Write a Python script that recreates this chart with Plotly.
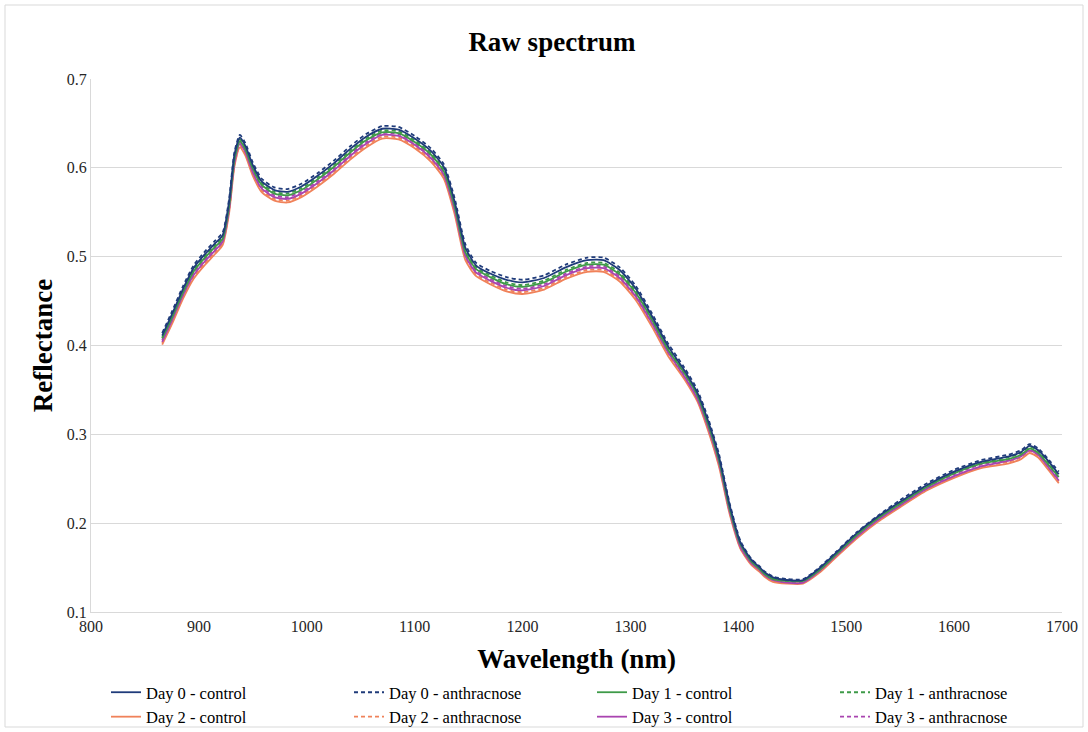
import plotly.graph_objects as go

wavelength = [866, 875, 885, 895, 905, 915, 922, 928, 933, 938, 943, 950, 958, 970, 982, 995,
              1010, 1025, 1040, 1055, 1070, 1085, 1100, 1115, 1127, 1137, 1147, 1157, 1170, 1185,
              1200, 1220, 1240, 1260, 1275, 1290, 1305, 1320, 1335, 1350, 1362, 1372, 1382, 1392,
              1402, 1412, 1420, 1424, 1432, 1445, 1460, 1475, 1490, 1510, 1530, 1550, 1575, 1600,
              1625, 1650, 1662, 1670, 1678, 1688, 1697]

day0_anthracnose = [.414, .438, .466, .490, .505, .518, .527, .565, .618, .637, .628, .606, .588, .578, .576, .582,
                    .594, .608, .624, .638, .647, .646, .636, .622, .604, .566, .514, .493, .484, .477,
                    .474, .479, .491, .499, .499, .488, .467, .436, .402, .375, .350, .318, .278, .222,
                    .180, .160, .151, .146, .140, .137, .137, .150, .167, .190, .209, .226, .245, .260,
                    .271, .277, .282, .289, .284, .271, .258]
day0_control = [.411, .435, .463, .487, .502, .515, .524, .562, .615, .634, .625, .603, .585, .575, .573, .579,
                .591, .605, .621, .635, .644, .643, .633, .619, .601, .562, .510, .490, .481, .474,
                .471, .476, .488, .496, .496, .485, .464, .433, .399, .372, .347, .315, .275, .220,
                .178, .159, .150, .145, .139, .136, .136, .149, .166, .189, .208, .224, .243, .258,
                .269, .275, .280, .287, .282, .269, .255]
day1_anthracnose = [.409, .433, .461, .485, .500, .513, .522, .559, .612, .632, .623, .601, .583, .573, .571, .577,
                    .589, .603, .619, .633, .642, .641, .631, .617, .598, .560, .508, .488, .479, .471,
                    .468, .473, .485, .493, .493, .482, .461, .431, .397, .370, .345, .313, .273, .218,
                    .177, .158, .149, .144, .138, .135, .135, .148, .165, .188, .207, .223, .242, .257,
                    .268, .274, .279, .286, .281, .267, .253]
day1_control = [.408, .431, .459, .483, .498, .511, .520, .557, .610, .630, .621, .599, .581, .571, .569, .575,
                .587, .601, .617, .631, .640, .639, .629, .615, .596, .557, .505, .486, .477, .469,
                .466, .471, .483, .491, .491, .480, .459, .429, .395, .369, .344, .311, .271, .216,
                .176, .157, .148, .143, .137, .135, .135, .147, .164, .187, .206, .222, .241, .256,
                .267, .272, .277, .284, .279, .265, .252]
day2_control = [.401, .424, .452, .475, .490, .503, .513, .549, .602, .623, .614, .591, .573, .563, .561, .567,
                .579, .593, .609, .623, .633, .632, .622, .607, .588, .548, .496, .478, .469, .461,
                .458, .463, .475, .483, .483, .472, .451, .421, .388, .362, .337, .304, .264, .210,
                .171, .153, .145, .140, .134, .132, .132, .144, .161, .183, .202, .218, .237, .251,
                .262, .267, .272, .279, .274, .259, .245]
day2_anthracnose = [.403, .426, .454, .477, .492, .505, .515, .551, .604, .625, .616, .593, .575, .565, .563, .569,
                    .581, .595, .611, .625, .635, .634, .624, .609, .590, .551, .499, .480, .471, .463,
                    .460, .465, .477, .485, .485, .474, .453, .423, .390, .364, .339, .306, .266, .212,
                    .172, .154, .146, .141, .135, .133, .133, .145, .162, .184, .203, .219, .238, .252,
                    .263, .269, .274, .281, .276, .261, .247]
day3_control = [.404, .428, .456, .479, .494, .507, .517, .553, .606, .627, .618, .595, .577, .567, .565, .571,
                .583, .597, .613, .627, .637, .636, .626, .611, .592, .553, .501, .482, .473, .465,
                .462, .467, .479, .487, .487, .476, .455, .425, .392, .365, .340, .308, .268, .213,
                .173, .155, .147, .142, .136, .133, .133, .146, .163, .185, .204, .220, .239, .253,
                .264, .270, .275, .282, .277, .262, .248]
day3_anthracnose = [.406, .430, .458, .481, .496, .509, .519, .555, .608, .629, .620, .597, .579, .569, .567, .573,
                    .585, .599, .615, .629, .639, .638, .628, .613, .594, .555, .503, .484, .475, .467,
                    .464, .469, .481, .489, .489, .478, .457, .427, .394, .367, .342, .310, .270, .215,
                    .175, .156, .147, .142, .136, .134, .134, .146, .163, .186, .205, .221, .240, .255,
                    .266, .271, .276, .283, .278, .264, .250]

series_names = ["Day 0 - control", "Day 0 - anthracnose", "Day 1 - control", "Day 1 - anthracnose",
                "Day 2 - control", "Day 2 - anthracnose", "Day 3 - control", "Day 3 - anthracnose"]
series_values = [day0_control, day0_anthracnose, day1_control, day1_anthracnose,
                 day2_control, day2_anthracnose, day3_control, day3_anthracnose]

x_ticks = [800, 900, 1000, 1100, 1200, 1300, 1400, 1500, 1600, 1700]
y_ticks = [0.1, 0.2, 0.3, 0.4, 0.5, 0.6, 0.7]

colors = {"Day 0": "#1F3B7A", "Day 1": "#3E9A48", "Day 2": "#F0825A", "Day 3": "#A944B0"}

FONT = "Liberation Serif"

# draw order: lowest first so top curves are on top
draw_order = [4, 5, 6, 7, 2, 3, 0, 1]
fig = go.Figure()
traces = {}
for i in range(8):
    name = series_names[i]
    day = name.split(" - ")[0]
    dashed = "anthracnose" in name
    traces[i] = go.Scatter(
        x=wavelength, y=series_values[i], name=name, mode="lines",
        line=dict(color=colors[day], width=1.8, shape="spline", smoothing=0.6,
                  dash="4px,3px" if dashed else "solid"),
        legendrank=i + 1,
    )
for i in draw_order:
    fig.add_trace(traces[i])

fig.update_layout(
    width=1088, height=732,
    margin=dict(l=91, r=26, t=79, b=120, autoexpand=False),
    paper_bgcolor="white", plot_bgcolor="white",
    font=dict(family=FONT, color="#000000"),
    title=dict(text="<b>Raw spectrum</b>", x=552 / 1088, xref="container", xanchor="center",
               y=1 - 42 / 732, yref="container", yanchor="middle",
               font=dict(family=FONT, size=27, color="#000000")),
    showlegend=True,
    legend=dict(orientation="h", xref="container", x=106 / 1088, xanchor="left",
                yref="container", y=1 - 675 / 732, yanchor="top",
                font=dict(family=FONT, size=16.5, color="#000000"),
                entrywidth=198, itemwidth=30, tracegroupgap=0,
                bgcolor="rgba(0,0,0,0)", traceorder="normal"),
    shapes=[dict(type="rect", xref="paper", yref="paper",
                 x0=(5 - 91) / 971, x1=(1083 - 91) / 971,
                 y0=(612 - 727) / 533, y1=(612 - 5) / 533,
                 line=dict(color="#D9D9D9", width=1), fillcolor="rgba(0,0,0,0)", layer="below")],
)

fig.update_xaxes(range=[800, 1700], tickvals=x_ticks, ticktext=[str(v) for v in x_ticks],
                 showgrid=False, showline=True, linecolor="#D9D9D9", linewidth=1,
                 ticks="", zeroline=False,
                 tickfont=dict(family=FONT, size=16, color="#262626"),
                 title=dict(text="<b>Wavelength (nm)</b>", standoff=14,
                            font=dict(family=FONT, size=27, color="#000000")))
fig.update_yaxes(range=[0.1, 0.7], tickvals=y_ticks, ticktext=[f"{v:.1f}" for v in y_ticks],
                 showgrid=True, gridcolor="#D9D9D9", gridwidth=1,
                 showline=True, linecolor="#D9D9D9", linewidth=1,
                 ticks="", zeroline=False,
                 tickfont=dict(family=FONT, size=16, color="#262626"),
                 title=dict(text="<b>Reflectance</b>", standoff=6,
                            font=dict(family=FONT, size=27, color="#000000")))

fig.write_html("out.html")
